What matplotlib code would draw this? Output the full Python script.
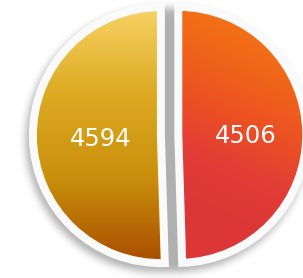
import numpy as np
import matplotlib
matplotlib.use('Agg')
import matplotlib.pyplot as plt
from matplotlib.colors import LinearSegmentedColormap

# ---- data ----
values = [4506, 4594]
labels = ['4506', '4594']
grad_right = ['#F47516', '#F06419', '#EB5024', '#E33C37', '#DC3636']
grad_left = ['#F7D265', '#DDAA22', '#C98F0C', '#A84C00']

W, H = 303, 278
fig = plt.figure(figsize=(W / 100, H / 100), dpi=100)
fig.patch.set_facecolor('white')
ax = fig.add_axes([0, 0, 1, 1])

R = 128
BW = 8  # border width px
cx, cy = 169.6, H - 135.0
wedges, texts = ax.pie(values, labels=labels, radius=R, center=(cx, cy),
                       startangle=90, counterclock=False,
                       explode=[8.7, 8.7], labeldistance=0.5, frame=True,
                       wedgeprops=dict(facecolor='none', edgecolor='#FAFAFA',
                                       linewidth=BW * 0.72, zorder=3),
                       textprops=dict(color='white', fontsize=17.5,
                                      family='DejaVu Sans', zorder=5))
# place labels inside each slice along its mid angle
label_dist = [0.53, 0.47]
for w, t, d in zip(wedges, texts, label_dist):
    mid = np.deg2rad(0.5 * (w.theta1 + w.theta2))
    x0, y0 = w.center
    t.set_position((x0 + d * w.r * np.cos(mid), y0 + d * w.r * np.sin(mid) - 2.5))
    t.set_ha('center')
    t.set_va('center')

ax.set_xlim(0, W)
ax.set_ylim(0, H)
ax.set_aspect('auto')
ax.axis('off')

# pixel grid (data coords = pixels, y up)
xs = np.arange(W) + 0.5
ys = np.arange(H) + 0.5
X, Y = np.meshgrid(xs, ys[::-1])  # row 0 = top
Ytop = H - Y  # distance from top

# shadow of the exploded pie (slices incl. border, plus the gap between them)
(rcx, rcy), (lcx, lcy) = wedges[0].center, wedges[1].center
Re = R + BW / 2
inL = ((X - lcx) ** 2 + (Y - lcy) ** 2 <= Re ** 2) & (X <= lcx + BW / 2)
inR = ((X - rcx) ** 2 + (Y - rcy) ** 2 <= Re ** 2) & (X >= rcx - BW / 2)
gap = (X > lcx) & (X < rcx) & ((X - cx) ** 2 + (Y - cy) ** 2 <= Re ** 2)
mask = (inL | inR | gap).astype(float)
dx, dy = -3, 5
sh = np.zeros_like(mask)
sh[dy:, :W + dx] = mask[:H - dy, -dx:]
sig = 4.0
k = np.arange(-14, 15)
kern = np.exp(-k ** 2 / (2 * sig ** 2)); kern /= kern.sum()
sh = np.apply_along_axis(lambda r: np.convolve(r, kern, mode='same'), 1, sh)
sh = np.apply_along_axis(lambda c: np.convolve(c, kern, mode='same'), 0, sh)
rgba = np.zeros((H, W, 4))
rgba[..., 3] = 0.31 * sh
ax.imshow(rgba, extent=(0, W, 0, H), origin='upper', zorder=1, interpolation='bilinear')

# gradients
cm_r = LinearSegmentedColormap.from_list('r', grad_right)
cm_l = LinearSegmentedColormap.from_list('l', grad_left)
t_left = np.clip((Ytop - 8) / 256, 0, 1)
t_right = np.clip(1.2 * (Ytop - 8) / 256 + 0.25 * (X - 300) / -120 - 0.15, 0, 1)
for w, cmap, t in [(wedges[0], cm_r, t_right), (wedges[1], cm_l, t_left)]:
    im = ax.imshow(cmap(t), extent=(0, W, 0, H), origin='upper', zorder=2,
                   interpolation='bilinear')
    im.set_clip_path(w)

ax.set_xlim(0, W)
ax.set_ylim(0, H)
fig.savefig('out.png', dpi=100, facecolor='white')
